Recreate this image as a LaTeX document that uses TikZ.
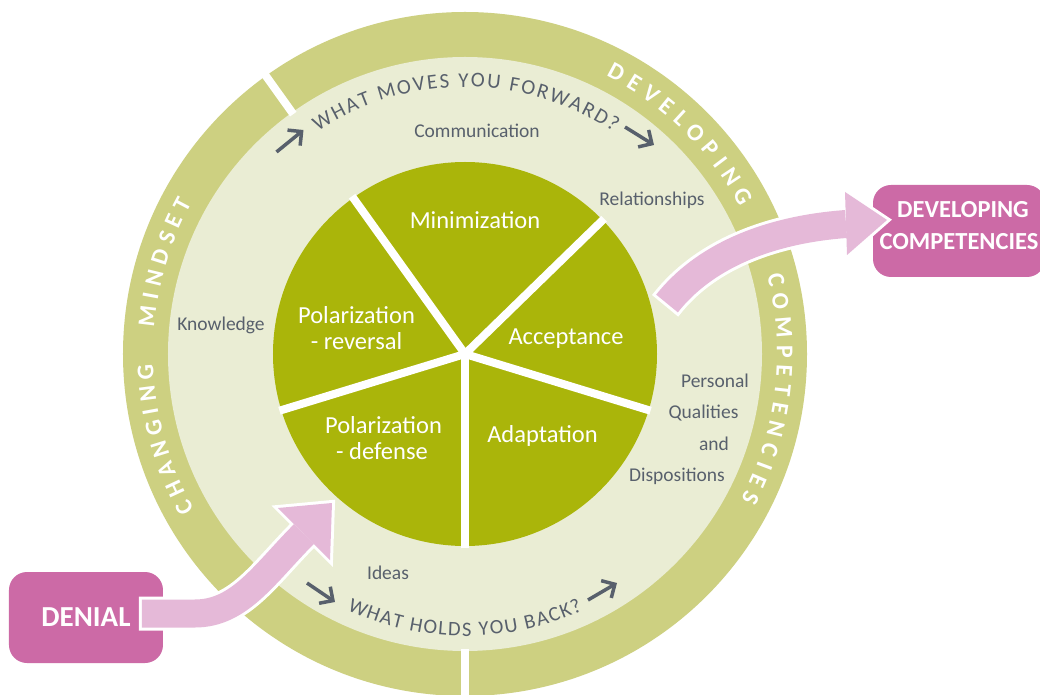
\documentclass[tikz,border=0pt]{standalone}
\usepackage{fontspec}
\setmainfont{Carlito}
\usetikzlibrary{arrows.meta}
\definecolor{ringc}{HTML}{CDD081}
\definecolor{lightc}{HTML}{EAEDD4}
\definecolor{piec}{HTML}{AAB50A}
\definecolor{boxc}{HTML}{CC6AA6}
\definecolor{arrc}{HTML}{E5B9D8}
\definecolor{grayt}{HTML}{58606C}
\newbox\arcbox
% #1 name, #2 baseline radius, #3 mid angle, #4 tracking, #5 font, #6 direction (-1 cw, 1 ccw), #7 list
\newcommand\PrepArc[7]{%
  \gdef\arctot{0}%
  \foreach \ch in {#7}{%
    \setbox\arcbox=\hbox{#5\ch}%
    \pgfmathparse{\arctot+\the\wd\arcbox+#4}%
    \global\let\arctot\pgfmathresult
  }%
  \pgfmathparse{#3-(#6)*0.5*(\arctot-#4)/#2*180/pi}\global\let\arcstart\pgfmathresult
  \gdef\arccum{0}%
  \foreach \ch [count=\ci] in {#7}{%
    \setbox\arcbox=\hbox{#5\ch}%
    \pgfmathparse{\arcstart+(#6)*(\arccum+0.5*\the\wd\arcbox)/#2*180/pi}%
    \expandafter\xdef\csname arcang@#1@\ci\endcsname{\pgfmathresult}%
    \pgfmathparse{\arccum+\the\wd\arcbox+#4}\global\let\arccum\pgfmathresult
  }%
}
% #1 name, #2 radius, #3 rotation offset, #4 font, #5 colour, #6 list
\newcommand\DrawArc[6]{%
  \foreach \ch [count=\ci] in {#6}{%
    \edef\arcth{\csname arcang@#1@\ci\endcsname}%
    \node[text=#5,font=#4,inner sep=0pt,anchor=base,rotate=\arcth+#3] (#1\ci) at (\arcth:#2pt) {\ch};
  }%
}
\newcommand\tqfont{\fontsize{21}{24}\selectfont}
\newcommand\bqfont{\fontsize{20.5}{24}\selectfont}
\newcommand\ringfont{\bfseries\fontsize{24}{28}\selectfont}
\begin{document}%
\PrepArc{tq}{267}{89.8}{2.0}{\tqfont}{-1}{W,H,A,T,\ ,M,O,V,E,S,\ ,Y,O,U,\ ,F,O,R,W,A,R,D,?}%
\PrepArc{bq}{282}{270}{1.5}{\bqfont}{1}{W,H,A,T,\ ,H,O,L,D,S,\ ,Y,O,U,\ ,B,A,C,K,?}%
\PrepArc{dv}{312}{45.6}{6.8}{\ringfont}{-1}{D,E,V,E,L,O,P,I,N,G}%
\PrepArc{cp}{312}{-6.65}{6.8}{\ringfont}{-1}{C,O,M,P,E,T,E,N,C,I,E,S}%
\PrepArc{chg}{312}{195.85}{5.9}{\ringfont}{-1}{C,H,A,N,G,I,N,G}%
\PrepArc{mds}{312}{163.05}{6.3}{\ringfont}{-1}{M,I,N,D,S,E,T}%
\begin{tikzpicture}[x=1pt,y=1pt,
  graylbl/.style={text=grayt,font=\fontsize{19.5}{22}\selectfont,anchor=base,inner sep=0pt},
  pielbl/.style={text=white,font=\fontsize{24.5}{27}\selectfont,anchor=base,inner sep=0pt},
  boxlbl/.style={text=white,font=\bfseries\fontsize{24.5}{27}\selectfont,anchor=base,inner sep=0pt},
  pinkbox/.style={fill=boxc,rounded corners=18pt,inner sep=0pt},
  divider/.style={white,line width=8pt},
  smallarrow/.style={grayt,line width=3.5pt,-{Straight Barb[length=10pt,width=20pt]}},
  shaftout/.style={white,line width=34pt},
  shaftin/.style={arrc,line width=28pt},
  headout/.style={draw=white,fill=white,line width=6pt,line join=miter},
  headin/.style={fill=arrc},
  ]
\useasboundingbox (-465,-341) rectangle (575,354);
\clip (-465,-341) rectangle (575,354);
\fill[white] (-465,-341) rectangle (575,354);
\coordinate (C) at (0,0);
% rings
\fill[ringc] (C) circle[radius=342];
\fill[lightc] (C) circle[radius=297];
\draw[divider] (125.6:295) -- (125.6:346);
\draw[divider] (270:295) -- (270:352);
% pie
\fill[piec] (C) circle[radius=192];
\foreach \a in {-90,-17,44.2,125.6,197} \draw[divider] (C) -- (\a:194);
% pie labels
\node[pielbl] (minim) at (10,125) {Minimization};
\node[pielbl] (polr1) at (-108.5,30) {Polarization};
\node[pielbl] (polr2) at (-108.5,4) {- reversal};
\node[pielbl] (accep) at (101,9) {Acceptance};
\node[pielbl] (pold1) at (-81.5,-80) {Polarization};
\node[pielbl] (pold2) at (-83,-106) {- defense};
\node[pielbl] (adapt) at (77.5,-89) {Adaptation};
% gray labels
\node[graylbl] (comm) at (12,216) {Communication};
\node[graylbl] (rel) at (187,148) {Relationships};
\node[graylbl] (know) at (-244,23) {Knowledge};
\node[graylbl] (pers) at (250,-34) {Personal};
\node[graylbl] (qual) at (238.5,-65) {Qualities};
\node[graylbl] (andw) at (249,-96) {and};
\node[graylbl] (disp) at (212,-127) {Dispositions};
\node[graylbl] (ideas) at (-77,-225) {Ideas};
% curved texts
\DrawArc{tq}{267}{-90}{\tqfont}{grayt}{W,H,A,T,\ ,M,O,V,E,S,\ ,Y,O,U,\ ,F,O,R,W,A,R,D,?}
\DrawArc{bq}{282}{90}{\bqfont}{grayt}{W,H,A,T,\ ,H,O,L,D,S,\ ,Y,O,U,\ ,B,A,C,K,?}
\DrawArc{dv}{312}{-90}{\ringfont}{white}{D,E,V,E,L,O,P,I,N,G}
\DrawArc{cp}{312}{-90}{\ringfont}{white}{C,O,M,P,E,T,E,N,C,I,E,S}
\DrawArc{chg}{312}{-90}{\ringfont}{white}{C,H,A,N,G,I,N,G}
\DrawArc{mds}{312}{-90}{\ringfont}{white}{M,I,N,D,S,E,T}
% small arrows
\coordinate (tlA) at (-188.5,202); \coordinate (tlB) at (-161.5,224);
\coordinate (trA) at (160,227);    \coordinate (trB) at (189,209);
\coordinate (blA) at (-158,-229);  \coordinate (blB) at (-130,-248);
\coordinate (brA) at (123,-246);   \coordinate (brB) at (152,-229);
\draw[smallarrow] (tlA) -- (tlB);
\draw[smallarrow] (trA) -- (trB);
\draw[smallarrow] (blA) -- (blB);
\draw[smallarrow] (brA) -- (brB);
% boxes
\node[pinkbox,minimum width=154pt,minimum height=91pt,text=white,font=\bfseries\fontsize{29}{32}\selectfont] (denial) at (-379,-263.5) {DENIAL};
\node[pinkbox,minimum width=172pt,minimum height=92pt] (devbox) at (494,123) {};
\node[boxlbl] (devt1) at (498,136) {DEVELOPING};
\node[boxlbl] (devt2) at (494,104) {COMPETENCIES};
% arrow 1: denial -> pie
\coordinate (a1tail) at (-323,-259.5);
\coordinate (a1bend) at (-270,-259.5);
\coordinate (a1end) at (-161,-180);
\coordinate (a1w1) at (-187,-154);
\coordinate (a1tip) at (-133,-149);
\coordinate (a1w2) at (-135,-206);
\draw[shaftout] ([xshift=-3pt]a1tail) -- (a1bend) .. controls (-225,-259.5) and (-200,-219) .. (a1end);
\path[headout] (a1w1) -- (a1tip) -- (a1w2) -- cycle;
\draw[shaftin] (a1tail) -- (a1bend) .. controls (-225,-259.5) and (-200,-219) .. (a1end);
\path[headin] (a1w1) -- (a1tip) -- (a1w2) -- cycle;
% arrow 2: acceptance -> developing competencies
\coordinate (a2tail) at (202,50.5);
\coordinate (a2tailx) at (200.1,48.2);
\coordinate (a2end) at (381,130);
\coordinate (a2w1) at (380,162);
\coordinate (a2tip) at (422,134);
\coordinate (a2w2) at (382,99);
\draw[shaftout] (a2tailx) -- (a2tail) .. controls (238,96) and (300,124) .. (a2end);
\path[headout] (a2w1) -- (a2tip) -- (a2w2) -- cycle;
\draw[shaftin] (a2tail) .. controls (238,96) and (300,124) .. (a2end);
\path[headin] (a2w1) -- (a2tip) -- (a2w2) -- cycle;
\end{tikzpicture}%
\end{document}
